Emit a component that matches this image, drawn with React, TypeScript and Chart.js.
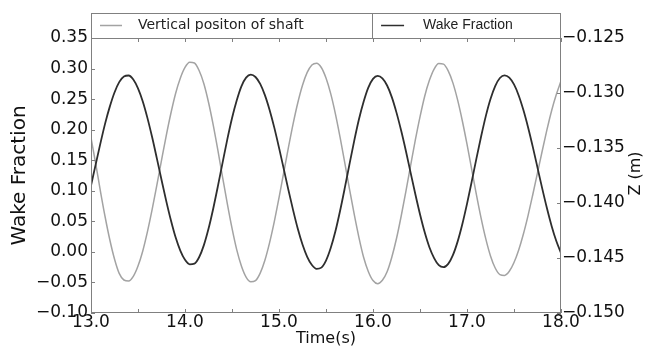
import React, { useEffect, useRef } from "react";
import { Chart, registerables } from "chart.js";

Chart.register(...registerables);

// Time axis samples (s)
const TIME_S = [
  13.0, 13.05, 13.1, 13.15, 13.2, 13.25, 13.3, 13.35, 13.4, 13.45,
  13.5, 13.55, 13.6, 13.65, 13.7, 13.75, 13.8, 13.85, 13.9, 13.95,
  14.0, 14.05, 14.1, 14.15, 14.2, 14.25, 14.3, 14.35, 14.4, 14.45,
  14.5, 14.55, 14.6, 14.65, 14.7, 14.75, 14.8, 14.85, 14.9, 14.95,
  15.0, 15.05, 15.1, 15.15, 15.2, 15.25, 15.3, 15.35, 15.4, 15.45,
  15.5, 15.55, 15.6, 15.65, 15.7, 15.75, 15.8, 15.85, 15.9, 15.95,
  16.0, 16.05, 16.1, 16.15, 16.2, 16.25, 16.3, 16.35, 16.4, 16.45,
  16.5, 16.55, 16.6, 16.65, 16.7, 16.75, 16.8, 16.85, 16.9, 16.95,
  17.0, 17.05, 17.1, 17.15, 17.2, 17.25, 17.3, 17.35, 17.4, 17.45,
  17.5, 17.55, 17.6, 17.65, 17.7, 17.75, 17.8, 17.85, 17.9, 17.95,
  18.0,
];

// Wake fraction (left axis)
const WAKE_FRACTION = [
  0.1084, 0.1432, 0.1775, 0.2099, 0.2377, 0.2609, 0.2778, 0.2871, 0.2886, 0.2821,
  0.2676, 0.2465, 0.2193, 0.1879, 0.1534, 0.1181, 0.0835, 0.0517, 0.0238, 0.0022,
  -0.013, -0.0204, -0.0193, -0.0088, 0.0107, 0.0378, 0.0707, 0.1075, 0.1461, 0.184,
  0.2186, 0.2477, 0.2709, 0.2851, 0.29, 0.2862, 0.2748, 0.2565, 0.2322, 0.2033,
  0.1706, 0.1362, 0.1015, 0.0684, 0.0378, 0.0121, -0.008, -0.0215, -0.0277, -0.0257,
  -0.0143, 0.0062, 0.0337, 0.0674, 0.1047, 0.1436, 0.1817, 0.2166, 0.2457, 0.2689,
  0.2832, 0.288, 0.284, 0.2723, 0.2533, 0.2279, 0.1981, 0.1651, 0.1297, 0.0947,
  0.0616, 0.0321, 0.0077, -0.0101, -0.0218, -0.025, -0.0196, -0.0053, 0.0168, 0.0452,
  0.0785, 0.115, 0.1526, 0.1888, 0.2222, 0.2502, 0.2713, 0.2845, 0.289, 0.2852,
  0.274, 0.256, 0.2321, 0.2037, 0.1719, 0.1379, 0.1039, 0.0717, 0.0425, 0.0178,
  -0.0019,
];

// Vertical position of shaft Z (m) (right axis)
const SHAFT_Z_M = [
  -0.13406, -0.13642, -0.13891, -0.14125, -0.14334, -0.14509, -0.1464, -0.147, -0.14709, -0.14667,
  -0.14573, -0.14438, -0.14263, -0.14061, -0.13839, -0.13612, -0.13389, -0.13184, -0.13004, -0.12866,
  -0.12768, -0.12721, -0.12727, -0.12796, -0.12914, -0.13084, -0.1329, -0.13522, -0.13766, -0.14006,
  -0.14229, -0.14424, -0.14572, -0.14673, -0.14716, -0.14705, -0.14637, -0.1452, -0.1436, -0.14169,
  -0.13953, -0.13725, -0.13497, -0.13281, -0.13089, -0.1293, -0.12813, -0.12745, -0.12729, -0.12768,
  -0.12864, -0.13006, -0.13189, -0.13403, -0.13636, -0.13873, -0.14102, -0.14312, -0.14493, -0.14622,
  -0.14705, -0.14733, -0.14702, -0.14625, -0.14493, -0.14323, -0.14118, -0.13894, -0.1366, -0.13429,
  -0.13217, -0.13029, -0.12885, -0.12782, -0.12732, -0.12738, -0.12799, -0.12908, -0.13063, -0.13252,
  -0.13465, -0.13694, -0.13923, -0.14137, -0.14326, -0.14481, -0.14591, -0.14651, -0.14658, -0.14621,
  -0.14541, -0.14427, -0.14282, -0.14112, -0.13923, -0.13726, -0.13527, -0.13336, -0.13161, -0.13014,
  -0.12891,
];

const SERIES_NAMES = ["Vertical positon of shaft", "Wake Fraction"];
const X_TITLE = "Time(s)";
const Y_TITLE = "Wake Fraction";
const Y1_TITLE = "Z (m)";

const GRAY = "#a3a3a3";
const DARK = "#2e2e2e";
const FRAME = "#808080";
const TEXT = "#111111";
const FONT = "'DejaVu Sans', sans-serif";

const fmtNum = (v: number, digits: number) => {
  const f = Math.pow(10, digits);
  const r = Math.round(v * f) / f;
  return r < 0 ? "\u2212" + Math.abs(r).toFixed(digits) : r.toFixed(digits);
};

const decorPlugin = {
  id: "decor",
  afterDraw(chart: any) {
    const { ctx, chartArea: a, scales } = chart;
    ctx.save();
    ctx.strokeStyle = FRAME;
    ctx.lineWidth = 1;
    // axes frame
    ctx.strokeRect(a.left + 0.5, a.top + 0.5, a.right - a.left - 1, a.bottom - a.top - 1);
    // inward ticks
    const tl = 4;
    ctx.beginPath();
    scales.x.ticks.forEach((t: any) => {
      const px = Math.round(scales.x.getPixelForValue(t.value)) + 0.5;
      ctx.moveTo(px, a.bottom);
      ctx.lineTo(px, a.bottom - tl);
      ctx.moveTo(px, a.top);
      ctx.lineTo(px, a.top + tl);
    });
    scales.y.ticks.forEach((t: any) => {
      const py = Math.round(scales.y.getPixelForValue(t.value)) + 0.5;
      ctx.moveTo(a.left, py);
      ctx.lineTo(a.left + tl, py);
    });
    scales.y1.ticks.forEach((t: any) => {
      const py = Math.round(scales.y1.getPixelForValue(t.value)) + 0.5;
      ctx.moveTo(a.right, py);
      ctx.lineTo(a.right - tl, py);
    });
    ctx.stroke();

    // legend box above the axes
    const top = a.top - 25;
    const midY = a.top - 12.5;
    const divX = a.left + (a.right - a.left) * 0.598;
    ctx.strokeRect(a.left + 0.5, top + 0.5, a.right - a.left - 1, a.top - top);
    ctx.beginPath();
    ctx.moveTo(Math.round(divX) + 0.5, top);
    ctx.lineTo(Math.round(divX) + 0.5, a.top);
    ctx.stroke();

    ctx.lineWidth = 1.5;
    ctx.strokeStyle = GRAY;
    ctx.beginPath();
    ctx.moveTo(a.left + 9, midY);
    ctx.lineTo(a.left + 31, midY);
    ctx.stroke();
    ctx.strokeStyle = DARK;
    ctx.beginPath();
    ctx.moveTo(divX + 9, midY);
    ctx.lineTo(divX + 32, midY);
    ctx.stroke();

    ctx.fillStyle = "#222";
    ctx.textBaseline = "middle";
    ctx.textAlign = "left";
    ctx.font = "14px " + FONT;
    ctx.fillText(SERIES_NAMES[0], a.left + 47, midY);
    ctx.font = "14px 'Liberation Sans', Arial, sans-serif";
    ctx.fillText(SERIES_NAMES[1], divX + 51, midY);

    // right axis title (reads bottom to top)
    ctx.save();
    ctx.translate(a.right + 75, (a.top + a.bottom) / 2 - 2);
    ctx.rotate(-Math.PI / 2);
    ctx.textAlign = "center";
    ctx.fillStyle = TEXT;
    ctx.font = "16px " + FONT;
    ctx.fillText(Y1_TITLE, 0, 0);
    ctx.restore();

    ctx.restore();
  },
};

export default function App() {
  const canvasRef = useRef<HTMLCanvasElement | null>(null);

  useEffect(() => {
    const canvas = canvasRef.current;
    if (!canvas) return;
    const chart = new Chart(canvas, {
      type: "line",
      data: {
        datasets: [
          {
            label: SERIES_NAMES[1],
            data: TIME_S.map((t, i) => ({ x: t, y: WAKE_FRACTION[i] })),
            yAxisID: "y",
            borderColor: DARK,
            borderWidth: 1.8,
            pointRadius: 0,
            cubicInterpolationMode: "monotone",
            order: 0,
          },
          {
            label: SERIES_NAMES[0],
            data: TIME_S.map((t, i) => ({ x: t, y: SHAFT_Z_M[i] })),
            yAxisID: "y1",
            borderColor: GRAY,
            borderWidth: 1.5,
            pointRadius: 0,
            cubicInterpolationMode: "monotone",
            order: 1,
          },
        ],
      },
      options: {
        responsive: false,
        animation: false,
        devicePixelRatio: 1,
        layout: { padding: { top: 38, left: 0, right: 0, bottom: 0 } },
        plugins: { legend: { display: false }, tooltip: { enabled: false } },
        scales: {
          x: {
            type: "linear",
            min: 13,
            max: 18,
            grid: { display: false, drawTicks: false },
            border: { display: false },
            afterFit: (s: any) => {
              s.height = 34;
            },
            ticks: {
              stepSize: 0.5,
              autoSkip: false,
              maxRotation: 0,
              padding: 1,
              color: TEXT,
              font: { family: FONT, size: 17, lineHeight: 1 },
              callback: (v: any) => (Math.abs(v - Math.round(v)) < 1e-6 ? Number(v).toFixed(1) : ""),
            },
            title: {
              display: true,
              text: X_TITLE,
              color: TEXT,
              font: { family: FONT, size: 16, lineHeight: 1 },
              padding: { top: 0, bottom: 0 },
            },
          },
          y: {
            type: "linear",
            position: "left",
            min: -0.1,
            max: 0.35,
            grid: { display: false, drawTicks: false },
            border: { display: false },
            afterFit: (s: any) => {
              s.width = 91;
            },
            ticks: {
              stepSize: 0.05,
              padding: 3,
              color: TEXT,
              font: { family: FONT, size: 17 },
              callback: (v: any) => fmtNum(Number(v), 2),
            },
            title: {
              display: true,
              text: Y_TITLE,
              color: TEXT,
              font: { family: FONT, size: 20, lineHeight: 1 },
              padding: { top: 10, bottom: 0 },
            },
          },
          y1: {
            type: "linear",
            position: "right",
            min: -0.15,
            max: -0.125,
            grid: { display: false, drawTicks: false },
            border: { display: false },
            afterFit: (s: any) => {
              s.width = 95;
            },
            ticks: {
              stepSize: 0.005,
              padding: 1,
              color: TEXT,
              font: { family: FONT, size: 17 },
              callback: (v: any) => fmtNum(Number(v), 3),
            },
          },
        },
      },
      plugins: [decorPlugin],
    });
    return () => chart.destroy();
  }, []);

  return (
    <div style={{ position: "absolute", left: 0, top: 0, width: 656, height: 347, background: "#fff" }}>
      <canvas ref={canvasRef} width={656} height={347} style={{ width: 656, height: 347, display: "block" }} />
    </div>
  );
}
